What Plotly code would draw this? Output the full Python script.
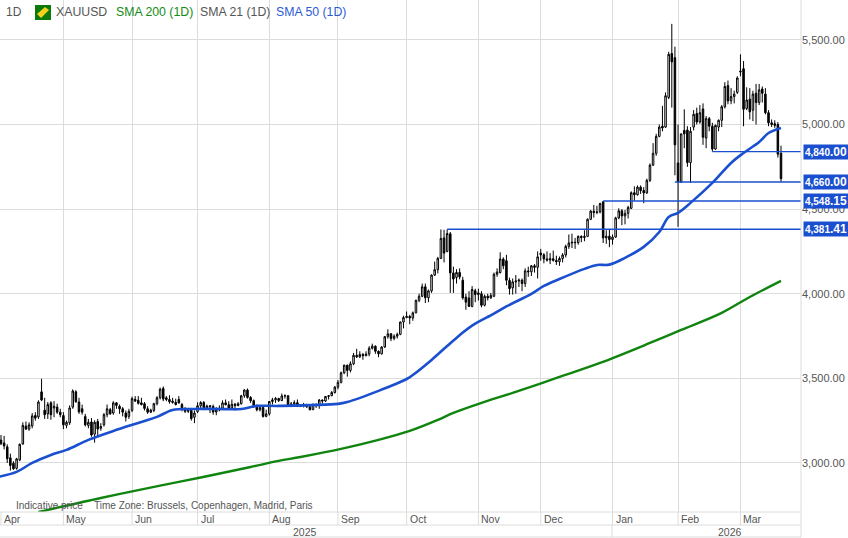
import plotly.graph_objects as go

# daily candles, one line per month (Apr 2025 .. Mar 2026)
opens = [
    3135, 3118, 3095, 3030, 2998, 2968, 3018, 3112, 3218, 3200, 3219, 3280, 3272, 3420, 3312, 3290, 3355, 3325, 3330, 3300,
    3280, 3222, 3237, 3330, 3420, 3360, 3320, 3275, 3222, 3242, 3170, 3245, 3205, 3225, 3285, 3315, 3295, 3355, 3335, 3320, 3295, 3275,
    3310, 3376, 3370, 3355, 3350, 3320, 3300, 3310, 3350, 3385, 3440, 3385, 3375, 3365, 3358, 3375, 3345, 3320, 3305, 3310, 3270,
    3303, 3338, 3357, 3326, 3338, 3334, 3301, 3313, 3324, 3355, 3344, 3324, 3347, 3339, 3350, 3397, 3431, 3387, 3368, 3337, 3314, 3327, 3275,
    3290, 3363, 3373, 3381, 3369, 3396, 3397, 3342, 3348, 3356, 3335, 3336, 3340, 3332, 3315, 3347, 3339, 3372, 3366, 3393, 3397, 3416,
    3448, 3476, 3533, 3578, 3547, 3586, 3636, 3627, 3641, 3634, 3643, 3678, 3690, 3660, 3645, 3685, 3746, 3763, 3736, 3749, 3760, 3833,
    3859, 3866, 3857, 3887, 3961, 3985, 4041, 3976, 4017, 4110, 4142, 4209, 4330, 4250, 4354, 4123, 4096, 4126, 4080, 3980, 3975, 3925, 4018,
    3995, 4000, 3932, 3985, 3975, 3985, 4115, 4125, 4205, 4195, 4078, 4035, 4070, 4075, 4080, 4060, 4135, 4130, 4165, 4156,
    4240, 4230, 4206, 4199, 4207, 4197, 4189, 4208, 4229, 4280, 4300, 4304, 4302, 4339, 4332, 4339, 4440, 4488, 4480, 4483, 4543, 4330, 4340,
    4320, 4335, 4448, 4490, 4460, 4475, 4505, 4597, 4585, 4630, 4610, 4596, 4670, 4760, 4830, 4930, 4990, 4985, 5160, 5420, 5395,
    4773, 4660, 4965, 4968, 4775, 4985, 5065, 5015, 5092, 4920, 5035, 4990, 4855, 4985, 5025, 5105, 5230, 5140, 5165, 5190,
    5310, 5330, 5095, 5150, 5085, 5185, 5130, 5210, 5180, 5070, 5010, 5005, 5000, 4830,
]
highs = [
    3165, 3160, 3110, 3055, 3010, 3030, 3115, 3240, 3245, 3240, 3295, 3300, 3370, 3497, 3385, 3360, 3365, 3365, 3350, 3320,
    3300, 3250, 3340, 3435, 3430, 3385, 3345, 3290, 3260, 3265, 3252, 3260, 3235, 3295, 3345, 3325, 3365, 3360, 3345, 3330, 3310, 3320,
    3392, 3395, 3395, 3385, 3360, 3335, 3320, 3355, 3395, 3445, 3452, 3395, 3400, 3385, 3380, 3395, 3355, 3330, 3325, 3325, 3310,
    3358, 3365, 3366, 3345, 3342, 3345, 3330, 3340, 3370, 3375, 3365, 3375, 3355, 3360, 3402, 3435, 3440, 3395, 3375, 3345, 3335, 3335, 3315,
    3365, 3385, 3390, 3385, 3410, 3405, 3400, 3360, 3370, 3375, 3345, 3355, 3350, 3345, 3350, 3350, 3378, 3375, 3395, 3400, 3425, 3455,
    3490, 3540, 3580, 3580, 3600, 3650, 3675, 3660, 3650, 3660, 3690, 3705, 3695, 3665, 3690, 3750, 3790, 3768, 3760, 3770, 3835, 3870,
    3895, 3875, 3895, 3965, 4000, 4060, 4060, 4025, 4115, 4190, 4218, 4380, 4378, 4381, 4365, 4160, 4145, 4150, 4100, 4000, 4015, 4045, 4030,
    4030, 4015, 3995, 4000, 4005, 4125, 4150, 4245, 4215, 4230, 4095, 4090, 4110, 4090, 4090, 4150, 4160, 4170, 4175, 4250,
    4265, 4240, 4250, 4240, 4255, 4225, 4220, 4240, 4290, 4350, 4355, 4330, 4345, 4345, 4375, 4445, 4495, 4525, 4520, 4538, 4548, 4375, 4380,
    4350, 4455, 4505, 4500, 4495, 4520, 4605, 4635, 4640, 4640, 4630, 4680, 4770, 4890, 4945, 5000, 5110, 5190, 5430, 5595, 5460,
    5000, 4945, 5090, 4990, 4985, 5085, 5100, 5115, 5125, 5050, 5045, 5010, 5000, 5030, 5115, 5250, 5260, 5215, 5200, 5285,
    5415, 5375, 5220, 5215, 5200, 5240, 5240, 5225, 5215, 5085, 5030, 5025, 5015, 4875,
]
lows = [
    3105, 3080, 3000, 2955, 2960, 2960, 3010, 3108, 3195, 3190, 3205, 3250, 3260, 3365, 3260, 3260, 3255, 3270, 3290, 3270,
    3200, 3205, 3225, 3320, 3355, 3290, 3285, 3215, 3205, 3155, 3120, 3160, 3190, 3215, 3270, 3285, 3285, 3320, 3290, 3275, 3245, 3260,
    3300, 3360, 3345, 3340, 3310, 3290, 3295, 3300, 3340, 3375, 3365, 3365, 3350, 3350, 3340, 3350, 3305, 3295, 3295, 3250, 3235,
    3295, 3325, 3312, 3322, 3295, 3285, 3282, 3305, 3320, 3340, 3320, 3320, 3310, 3335, 3345, 3385, 3380, 3355, 3325, 3305, 3305, 3268, 3270,
    3280, 3345, 3355, 3360, 3365, 3380, 3340, 3330, 3345, 3330, 3330, 3328, 3325, 3310, 3312, 3325, 3320, 3350, 3360, 3375, 3395, 3410,
    3435, 3470, 3525, 3510, 3535, 3578, 3620, 3620, 3610, 3630, 3630, 3670, 3645, 3625, 3640, 3680, 3735, 3720, 3725, 3735, 3755, 3795,
    3855, 3820, 3840, 3885, 3950, 3980, 3945, 3950, 4005, 4105, 4120, 4205, 4185, 4245, 4005, 4005, 4060, 4085, 3965, 3905, 3925, 3920, 3950,
    3960, 3920, 3925, 3960, 3970, 3980, 4100, 4120, 4145, 4050, 3995, 3995, 4000, 4040, 4015, 4040, 4100, 4105, 4125, 4090,
    4195, 4180, 4190, 4175, 4190, 4170, 4165, 4185, 4215, 4265, 4270, 4265, 4290, 4305, 4310, 4335, 4435, 4450, 4470, 4475, 4300, 4295, 4275,
    4290, 4330, 4440, 4405, 4410, 4445, 4500, 4550, 4580, 4590, 4535, 4590, 4660, 4755, 4815, 4925, 4960, 4980, 5150, 5100, 4700,
    4395, 4655, 4860, 4750, 4655, 4965, 5000, 5005, 4880, 4860, 4960, 4840, 4850, 4960, 4985, 5095, 5120, 5120, 5125, 5180,
    5285, 4990, 5085, 5030, 5020, 5000, 5115, 5130, 5060, 4990, 4985, 4980, 4805, 4660,
]
closes = [
    3114, 3100, 3025, 2985, 2965, 3024, 3110, 3222, 3200, 3225, 3278, 3265, 3360, 3372, 3285, 3345, 3285, 3335, 3300, 3285,
    3225, 3240, 3325, 3425, 3362, 3302, 3300, 3225, 3240, 3165, 3240, 3200, 3215, 3285, 3320, 3290, 3355, 3340, 3320, 3300, 3270, 3305,
    3380, 3366, 3352, 3345, 3322, 3300, 3312, 3350, 3385, 3436, 3378, 3375, 3362, 3358, 3345, 3355, 3318, 3305, 3312, 3262, 3295,
    3338, 3357, 3326, 3336, 3334, 3301, 3313, 3324, 3355, 3344, 3324, 3347, 3339, 3350, 3397, 3431, 3387, 3368, 3337, 3314, 3327, 3275, 3290,
    3363, 3373, 3381, 3369, 3396, 3397, 3342, 3348, 3356, 3335, 3336, 3340, 3332, 3315, 3347, 3339, 3372, 3366, 3393, 3397, 3416, 3448,
    3476, 3533, 3578, 3547, 3586, 3636, 3627, 3641, 3634, 3643, 3678, 3690, 3660, 3645, 3685, 3746, 3763, 3736, 3749, 3760, 3833, 3859,
    3866, 3857, 3887, 3961, 3985, 4041, 3976, 4017, 4110, 4142, 4209, 4327, 4240, 4356, 4123, 4087, 4126, 4100, 3975, 3950, 3925, 4025, 3995,
    4005, 3932, 3985, 3975, 3990, 4115, 4128, 4205, 4165, 4080, 4030, 4070, 4075, 4080, 4060, 4135, 4130, 4165, 4156, 4218,
    4230, 4206, 4199, 4207, 4197, 4189, 4208, 4229, 4280, 4300, 4304, 4302, 4339, 4332, 4339, 4440, 4488, 4480, 4483, 4533, 4330, 4340, 4320,
    4335, 4448, 4490, 4460, 4475, 4510, 4597, 4585, 4630, 4610, 4596, 4670, 4760, 4830, 4930, 4985, 4980, 5170, 5415, 5370, 4880,
    4660, 4945, 4945, 4775, 4960, 5060, 5015, 5070, 4925, 5035, 4990, 4855, 4995, 5025, 5105, 5225, 5140, 5165, 5180, 5275,
    5315, 5090, 5145, 5075, 5180, 5130, 5205, 5185, 5070, 5010, 5000, 4995, 4825, 4680,
]
bars = list(range(len(closes)))

sma50_bars = [-1, 5, 10, 16, 21, 28, 36, 45, 50, 55, 62, 69, 77, 82, 89, 108, 111, 121, 130, 132, 138, 143, 147, 151,
              158, 162, 170, 174, 179, 187, 191, 195, 200, 206, 211, 214, 217, 221, 228, 234, 238, 243, 246, 250]
sma50 = [2917, 2947, 3000, 3047, 3077, 3136, 3189, 3242, 3272, 3313, 3319, 3319, 3319, 3337, 3337, 3349, 3360, 3426,
         3496, 3520, 3609, 3691, 3755, 3812, 3882, 3925, 3999, 4046, 4087, 4147, 4170, 4172, 4212, 4277, 4365, 4454, 4478, 4537,
         4655, 4773, 4832, 4897, 4950, 4980]
sma200_bars = [12, 32, 51, 64, 80, 89, 96, 109, 121, 131, 140, 145, 154, 164, 179, 192, 208, 218, 231, 240, 250]
sma200 = [2710, 2793, 2866, 2914, 2976, 3012, 3035, 3083, 3136, 3189, 3254, 3296, 3355, 3414, 3508, 3591, 3709, 3786, 3887, 3981, 4076]

level_values = [4840.00, 4660.00, 4548.15, 4381.41]
level_starts = [228, 216, 193, 143]

month_labels = ["Apr", "May", "Jun", "Jul", "Aug", "Sep", "Oct", "Nov", "Dec", "Jan", "Feb", "Mar"]
month_bars = [0, 20, 42, 63, 86, 108, 130, 153, 173, 196, 217, 237]
price_ticks = [3000, 3500, 4000, 4500, 5000, 5500]

BLUE = "#1a4fd0"
GREEN = "#0f850f"
GRID = "#dcdcdc"
TEXT = "#555555"
FONT = "Liberation Sans"

WIDTH, HEIGHT = 848, 538
PLOT_W, PLOT_H = 801, 512
BAR_PX = 3.12
X_MIN = -0.32
X_MAX = X_MIN + PLOT_W / BAR_PX


def px(x):
    return x / PLOT_W


def py(y):
    return 1 - y / PLOT_H


def add_text(fig, text, x, y, color=TEXT, size=11, anchor="left"):
    fig.add_annotation(
        text=text, x=px(x), y=py(y), xref="paper", yref="paper",
        xanchor=anchor, yanchor="middle", showarrow=False,
        font=dict(family=FONT, size=size, color=color), borderpad=0,
    )


def add_line(fig, x0, y0, x1, y1, color=GRID):
    fig.add_shape(
        type="line", x0=px(x0), y0=py(y0), x1=px(x1), y1=py(y1),
        xref="paper", yref="paper", line=dict(color=color, width=1),
    )


fig = go.Figure()
fig.add_trace(go.Candlestick(
    x=bars, open=opens, high=highs, low=lows, close=closes,
    increasing=dict(line=dict(color="black", width=1), fillcolor="white"),
    decreasing=dict(line=dict(color="black", width=1), fillcolor="black"),
    whiskerwidth=0, showlegend=False,
))
fig.add_trace(go.Scatter(
    x=sma200_bars, y=sma200, mode="lines", showlegend=False,
    line=dict(color=GREEN, width=2.4, shape="spline", smoothing=1),
))
fig.add_trace(go.Scatter(
    x=sma50_bars, y=sma50, mode="lines", showlegend=False,
    line=dict(color=BLUE, width=2.6, shape="spline", smoothing=1),
))
for value, start in zip(level_values, level_starts):
    fig.add_trace(go.Scatter(
        x=[start, X_MAX], y=[value, value], mode="lines", showlegend=False,
        line=dict(color=BLUE, width=1.4),
    ))

fig.update_layout(
    width=WIDTH, height=HEIGHT,
    margin=dict(l=0, r=WIDTH - PLOT_W, t=0, b=HEIGHT - PLOT_H, pad=0),
    paper_bgcolor="white", plot_bgcolor="white",
    font=dict(family=FONT, size=11, color=TEXT),
    hovermode=False,
    xaxis=dict(
        range=[X_MIN, X_MAX], rangeslider=dict(visible=False),
        tickvals=month_bars, showticklabels=False, ticks="",
        showgrid=True, gridcolor=GRID, gridwidth=1, zeroline=False,
    ),
    yaxis=dict(
        side="right", range=[2710, 5736], tickvals=price_ticks,
        tickformat=",.2f", ticks="", showgrid=True, gridcolor=GRID,
        gridwidth=1, zeroline=False, tickfont=dict(size=11, color=TEXT),
    ),
)

# date rows under the plot
add_line(fig, 0, 512, 801, 512)
add_line(fig, 0, 525, 801, 525)
add_line(fig, 0, 537, 801, 537)
add_line(fig, 801, 0, 801, 537)
add_line(fig, 612, 525, 612, 537)
for label, bar in zip(month_labels, month_bars):
    x = (bar - X_MIN) * BAR_PX
    add_line(fig, x, 512, x, 525)
    add_text(fig, label, x + 2, 519, size=10.5)
add_text(fig, "2025", 305, 532, size=10.5, anchor="center")
add_text(fig, "2026", 730, 532, size=10.5, anchor="center")

# price badges on the right
for value in level_values:
    whole, cents = f"{value:,.2f}".split(".")
    fig.add_annotation(
        text=f'<b><span style="font-size:10px">{whole}</span>.{cents}</b>',
        x=px(803), y=value, xref="paper", yref="y", xanchor="left", yanchor="middle",
        width=44, height=14, align="center", showarrow=False, bgcolor=BLUE, borderpad=0,
        font=dict(family=FONT, size=12, color="white"),
    )

# header
add_text(fig, "1D", 5, 12, size=12)
fig.add_shape(type="rect", x0=px(35), x1=px(51), y0=py(5), y1=py(20), xref="paper", yref="paper",
              fillcolor="#0b7a0b", line=dict(width=0))
fig.add_shape(type="path", xref="paper", yref="paper", fillcolor="#f2d21f", line=dict(width=0),
              path=f"M {px(37)} {py(14)} L {px(45)} {py(7)} L {px(49)} {py(10)} L {px(41)} {py(18)} Z")
add_text(fig, "XAUUSD", 55, 12, size=12.3)
add_text(fig, "SMA 200 (1D)", 115, 12, color="#128c12", size=12.3)
add_text(fig, "SMA 21 (1D)", 199, 12, size=12.3)
add_text(fig, "SMA 50 (1D)", 275, 12, color="#2a5bd7", size=12.3)

# footer inside the plot
add_text(fig, "Indicative price", 15, 505, size=10)
add_text(fig, "Time Zone: Brussels, Copenhagen, Madrid, Paris", 93, 505, size=10)

fig.write_html(
    "out.html",
    config={"displayModeBar": False},
    post_script="document.body.style.margin = '0';",
)
